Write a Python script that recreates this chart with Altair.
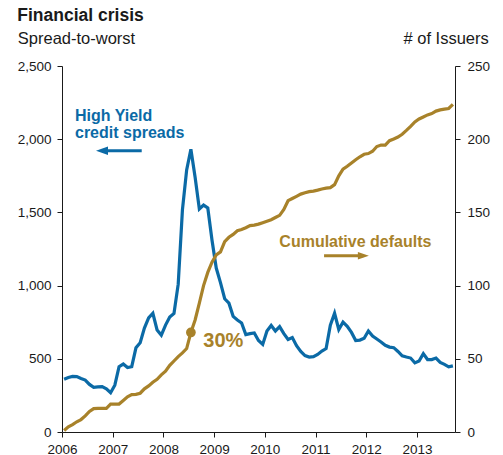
import altair as alt
import pandas as pd

# ---- data (monthly, Jan 2006 .. Sep 2013) ----
month_index = list(range(93))
hy_spread = [360, 372, 380, 378, 365, 355, 325, 305, 308, 310, 295, 268,
             320, 446, 464, 440, 446, 575, 610, 710, 780, 811, 697, 662,
             730, 785, 810, 1010, 1517, 1790, 1931, 1740, 1523, 1550, 1530, 1310,
             1120, 1020, 910, 880, 790, 765, 745, 665, 672, 676, 625, 598,
             690, 728, 690, 720, 672, 632, 645, 590, 550, 522, 512, 515,
             530, 553, 570, 730, 811, 700, 750, 722, 680, 625, 628, 640,
             690, 655, 635, 615, 592, 580, 576, 550, 520, 512, 505, 472,
             485, 535, 495, 495, 505, 475, 462, 445, 452]
cum_defaults = [1, 3.5, 5, 7, 8.5, 11, 14, 16, 16.2, 16.2, 16.2, 19,
                19.1, 19.1, 21.5, 24, 25.5, 25.7, 26.5, 29.5, 31.5, 34, 36, 39,
                41.5, 45.5, 48.5, 51.5, 54, 57, 68, 76.5, 88, 100, 109, 116,
                121, 123, 130, 133, 135, 137.5, 138.3, 139.5, 141, 141.3, 142, 143,
                144, 145, 146.5, 148, 152, 158, 159.5, 161, 162.5, 163.4, 164.2, 164.5,
                165.2, 166, 166.6, 166.9, 169, 175, 179.5, 181.5, 183.8, 186, 188, 189.7,
                190.2, 191.8, 195, 196, 196, 199, 200.2, 201.5, 203.4, 206, 208.8, 211.8,
                213.8, 215.2, 216.6, 217.5, 219.2, 220, 220.5, 221, 223.8]
year_ticks = [2006, 2007, 2008, 2009, 2010, 2011, 2012, 2013]
left_ticks = [0, 500, 1000, 1500, 2000, 2500]
right_ticks = [0, 50, 100, 150, 200, 250]

# annotations (data coordinates)
hy_text = ["High Yield", "credit spreads"]
hy_text_t = [2006.256, 2006.256]
hy_text_v = [2126, 2010]
hy_arrow_t = [2006.789, 2007.572]
hy_arrow_v = 1921
def_text = ["Cumulative defaults"]
def_text_t = [2010.286]
def_text_v = [126.6]
def_arrow_t = [2011.168, 2011.943]
def_arrow_v = 120.4
pct_text = ["30%"]
pct_t = [2008.787]
pct_v = [58.3]
dot_t = [2006 + 30.5 / 12]
dot_v = [68]

df = pd.DataFrame({
    "t": [2006 + (m + 0.5) / 12 for m in month_index],
    "hy": hy_spread,
    "defaults": cum_defaults,
})

FONT = "Liberation Sans"
BLUE = "#0b6aa6"
GOLD = "#a8822a"
DARK = "#1a1a1a"
BG = "#e8f0f5"

xscale = alt.Scale(domain=[2006, 2013.75], nice=False, zero=False)
xaxis = alt.Axis(values=year_ticks, format="d", grid=False, title=None,
                 labelFont=FONT, labelFontSize=13.5, labelColor=DARK,
                 labelPadding=5, tickSize=5, tickColor=DARK, domainColor=DARK,
                 labelFlush=False)

yl_scale = alt.Scale(domain=[0, 2500], nice=False)
yl_axis = alt.Axis(values=left_ticks, format=",d", grid=True, gridColor="white",
                   gridWidth=1.3, title="Spread-to-worst", titleAngle=0,
                   titleX=-44.7, titleY=-22.7, titleAlign="left",
                   titleBaseline="alphabetic", titleFont=FONT, titleFontSize=16.5,
                   titleFontWeight="normal", titleColor=DARK,
                   labelFont=FONT, labelFontSize=13.5, labelColor=DARK,
                   labelPadding=6, tickSize=5, tickColor=DARK, domainColor=DARK)

yr_scale = alt.Scale(domain=[0, 250], nice=False)
yr_axis = alt.Axis(orient="right", values=right_ticks, format="d", grid=False,
                   title="# of Issuers", titleAngle=0, titleX=33.3, titleY=-22.7,
                   titleAlign="right", titleBaseline="alphabetic", titleFont=FONT,
                   titleFontSize=16.5, titleFontWeight="normal", titleColor=DARK,
                   labelFont=FONT, labelFontSize=13.5, labelColor=DARK,
                   labelPadding=7, tickSize=5, tickColor=DARK, domainColor=DARK)

X = alt.X("t:Q", scale=xscale, axis=xaxis)

# ---- High-yield group (left axis) ----
blue_line = alt.Chart(df).mark_line(color=BLUE, strokeWidth=3.2).encode(
    x=X, y=alt.Y("hy:Q", scale=yl_scale, axis=yl_axis))

hy_lab_df = pd.DataFrame({"t": hy_text_t, "hy": hy_text_v, "text": hy_text})
blue_text = alt.Chart(hy_lab_df).mark_text(
    align="left", baseline="alphabetic", font=FONT, fontSize=16,
    fontWeight="bold", color=BLUE).encode(
    x=alt.X("t:Q", scale=xscale), y=alt.Y("hy:Q", scale=yl_scale), text="text:N")

hy_arr_df = pd.DataFrame({"t": [hy_arrow_t[0]], "t2": [hy_arrow_t[1]], "hy": [hy_arrow_v]})
blue_shaft = alt.Chart(hy_arr_df).mark_rule(color=BLUE, strokeWidth=2.8).encode(
    x=alt.X("t:Q", scale=xscale), x2="t2:Q", y=alt.Y("hy:Q", scale=yl_scale))
blue_head = alt.Chart(hy_arr_df).mark_point(
    shape="M-1,0L1,-0.7L1,0.7Z", filled=True, opacity=1, size=144, color=BLUE).encode(
    x=alt.X("t:Q", scale=xscale), y=alt.Y("hy:Q", scale=yl_scale))

blue_group = alt.layer(blue_line, blue_text, blue_shaft, blue_head)

# ---- Defaults group (right axis) ----
gold_line = alt.Chart(df).mark_line(color=GOLD, strokeWidth=3.2).encode(
    x=X, y=alt.Y("defaults:Q", scale=yr_scale, axis=yr_axis))

def_lab_df = pd.DataFrame({"t": def_text_t + pct_t, "defaults": def_text_v + pct_v,
                           "text": def_text + pct_text, "fs": [16, 20]})
gold_text = alt.Chart(def_lab_df).mark_text(
    align="left", baseline="alphabetic", font=FONT, fontWeight="bold",
    color=GOLD).encode(
    x=alt.X("t:Q", scale=xscale), y=alt.Y("defaults:Q", scale=yr_scale),
    text="text:N", size=alt.Size("fs:Q", scale=None, legend=None))

def_arr_df = pd.DataFrame({"t": [def_arrow_t[0]], "t2": [def_arrow_t[1]],
                           "defaults": [def_arrow_v]})
gold_shaft = alt.Chart(def_arr_df).mark_rule(color=GOLD, strokeWidth=2.8).encode(
    x=alt.X("t:Q", scale=xscale), x2="t2:Q", y=alt.Y("defaults:Q", scale=yr_scale))
gold_head_df = pd.DataFrame({"t": [def_arrow_t[1]], "defaults": [def_arrow_v]})
gold_head = alt.Chart(gold_head_df).mark_point(
    shape="M1,0L-1,-0.7L-1,0.7Z", filled=True, opacity=1, size=121, color=GOLD).encode(
    x=alt.X("t:Q", scale=xscale), y=alt.Y("defaults:Q", scale=yr_scale))

dot_df = pd.DataFrame({"t": dot_t, "defaults": dot_v})
gold_dot = alt.Chart(dot_df).mark_circle(size=95, color=GOLD, opacity=1).encode(
    x=alt.X("t:Q", scale=xscale), y=alt.Y("defaults:Q", scale=yr_scale))

gold_group = alt.layer(gold_line, gold_text, gold_shaft, gold_head, gold_dot)

chart = alt.layer(blue_group, gold_group).resolve_scale(y="independent").properties(
    width=393, height=366,
    autosize=alt.AutoSizeParams(type="none"),
    padding={"left": 62, "top": 66, "right": 48, "bottom": 23},
    title=alt.TitleParams("Financial crisis", anchor="start", frame="group",
                          dx=-44.7, font=FONT, fontSize=17.5, fontWeight="bold",
                          color=DARK, offset=6),
).configure_view(stroke=None, fill=BG).configure(background="white")

chart.save("out.html", embed_options={"renderer": "svg", "actions": False})
